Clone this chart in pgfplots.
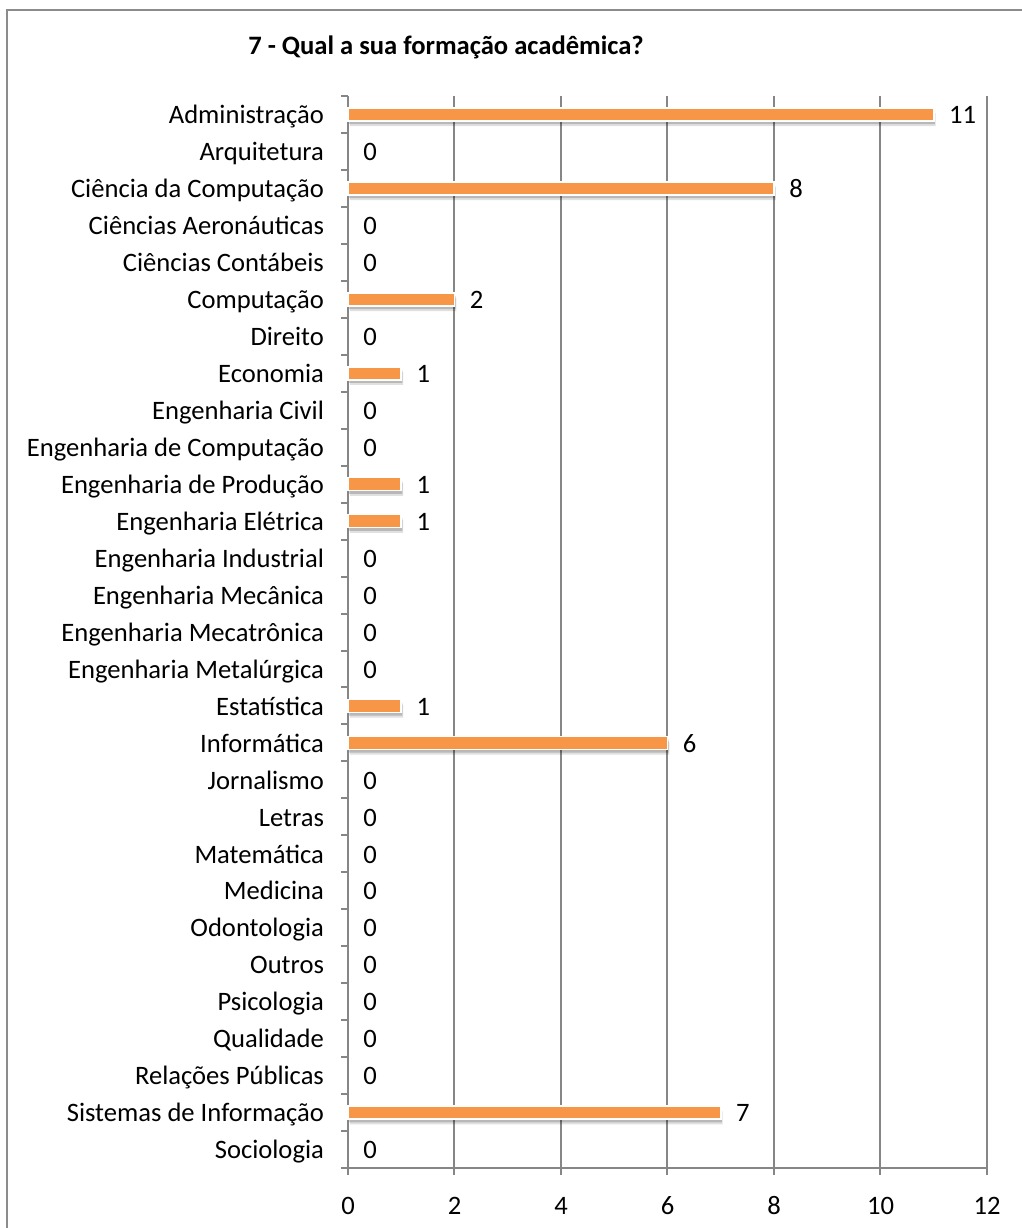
\documentclass[border=0pt]{standalone}
\usepackage{fontspec}
\setmainfont{Carlito}
\usepackage{pgfplots}
\pgfplotsset{compat=1.18}

\definecolor{barorange}{HTML}{F79646}
\definecolor{axisgray}{HTML}{868686}
\definecolor{framegray}{HTML}{8C8C8C}

\newcommand{\chartfont}{\fontsize{13.3}{16}\selectfont}

% Responses per course (top to bottom)
\pgfplotstableread{
idx value
0  11
1  0
2  8
3  0
4  0
5  2
6  0
7  1
8  0
9  0
10 1
11 1
12 0
13 0
14 0
15 0
16 1
17 6
18 0
19 0
20 0
21 0
22 0
23 0
24 0
25 0
26 0
27 7
28 0
}\formacao

\begin{document}
\begin{tikzpicture}
\useasboundingbox (0,0) rectangle (511pt,-614pt);
\draw[framegray, line width=1.2pt] (3.5pt,-640pt) -- (3.5pt,-5pt) -- (540pt,-5pt);
\node[font=\bfseries\chartfont] at (223pt,-23.5pt) {7 - Qual a sua formação acadêmica?};

\begin{axis}[
  at={(174pt,-584pt)}, anchor=south west,
  scale only axis, width=319.5pt, height=536pt,
  xmin=0, xmax=12, ymin=-0.5, ymax=28.5, y dir=reverse,
  axis x line*=bottom, axis y line*=left,
  axis line style={-, axisgray, line width=1pt},
  xtick={0,2,...,12},
  ytick={0,...,28},
  yticklabels={Administração, Arquitetura, Ciência da Computação,
    Ciências Aeronáuticas, Ciências Contábeis, Computação, Direito,
    Economia, Engenharia Civil, Engenharia de Computação,
    Engenharia de Produção, Engenharia Elétrica, Engenharia Industrial,
    Engenharia Mecânica, Engenharia Mecatrônica, Engenharia Metalúrgica,
    Estatística, Informática, Jornalismo, Letras, Matemática, Medicina,
    Odontologia, Outros, Psicologia, Qualidade, Relações Públicas,
    Sistemas de Informação, Sociologia},
  minor ytick={-0.5,0.5,...,28.5},
  tick align=outside,
  major tick length=3.5pt, minor tick length=3.5pt,
  major y tick style={draw=none},
  tick style={axisgray, line width=1pt},
  xmajorgrids,
  grid style={axisgray, line width=1pt},
  tick label style={font=\chartfont},
  yticklabel style={anchor=base east, xshift=-5pt, yshift=-4.6pt},
  xticklabel style={anchor=base, yshift=-19.5pt},
  /pgf/number format/assume math mode=true,
  clip=false,
]
% soft shadow under the bars
\addplot[xbar, bar width=6.5pt, bar shift=0pt, draw=none, fill=black, fill opacity=0.12,
  restrict x to domain=0.5:100, yshift=-2.6pt, xshift=1pt]
  table[x=value, y=idx] {\formacao};
\addplot[xbar, bar width=6.5pt, bar shift=0pt, draw=none, fill=black, fill opacity=0.18,
  restrict x to domain=0.5:100, yshift=-1.6pt, xshift=0.6pt]
  table[x=value, y=idx] {\formacao};
\addplot[xbar, bar width=6.5pt, bar shift=0pt, draw=white, line width=0.8pt, fill=barorange,
  restrict x to domain=0.5:100]
  table[x=value, y=idx] {\formacao};
% value labels
\addplot[draw=none, mark=none, point meta=x, nodes near coords,
  nodes near coords style={anchor=base west, inner sep=0pt, xshift=7.5pt, yshift=-4.6pt,
    font=\chartfont, text=black}]
  table[x=value, y=idx] {\formacao};
\end{axis}
\end{tikzpicture}
\end{document}
